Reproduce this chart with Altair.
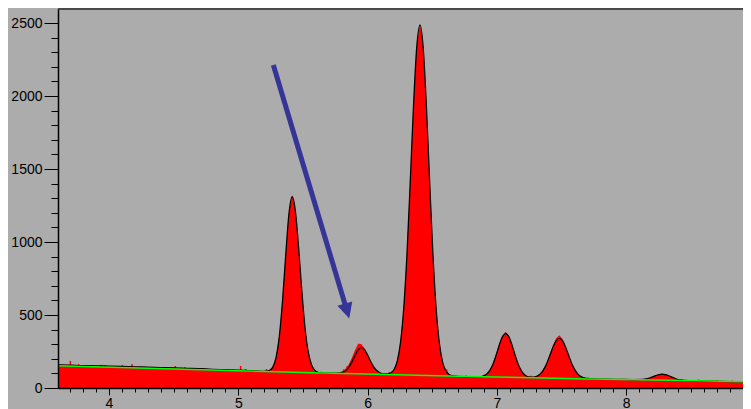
import altair as alt
import pandas as pd

# retention time (min) and detector signal of the chromatogram
T = [3.60, 3.70, 3.80, 3.90, 4.00, 4.10, 4.20, 4.30, 4.40, 4.50, 4.60, 4.70, 4.80, 4.90, 5.00, 5.10, 5.192,
     5.217, 5.242, 5.267, 5.292, 5.317, 5.342, 5.367, 5.392, 5.417, 5.442, 5.467, 5.492, 5.517, 5.542, 5.567,
     5.592, 5.617, 5.642, 5.700, 5.753, 5.778, 5.803, 5.828, 5.853, 5.878, 5.903, 5.928, 5.953, 5.978, 6.003,
     6.028, 6.053, 6.078, 6.103, 6.128, 6.155, 6.180, 6.205, 6.230, 6.255, 6.280, 6.305, 6.330, 6.355, 6.380,
     6.405, 6.430, 6.455, 6.480, 6.505, 6.530, 6.555, 6.580, 6.605, 6.630, 6.655, 6.700, 6.800, 6.868, 6.893,
     6.918, 6.943, 6.968, 6.993, 7.018, 7.043, 7.068, 7.093, 7.118, 7.143, 7.168, 7.193, 7.218, 7.243, 7.268,
     7.283, 7.308, 7.333, 7.358, 7.383, 7.408, 7.433, 7.458, 7.483, 7.508, 7.533, 7.558, 7.583, 7.608, 7.633,
     7.658, 7.683, 7.708, 7.750, 7.850, 7.950, 8.050, 8.129, 8.154, 8.179, 8.204, 8.229, 8.254, 8.279, 8.304,
     8.329, 8.354, 8.379, 8.404, 8.429, 8.454, 8.550, 8.650, 8.750, 8.850, 8.970]

# smooth fitted trace (black outline)
FIT = [158, 156, 153, 152, 150, 148, 145, 143, 140, 138, 135, 132, 128, 125, 122, 118, 114,
       115, 121, 143, 208, 350, 596, 912, 1195, 1310, 1209, 956, 657, 404, 242, 157,
       120, 108, 103, 102, 101, 102, 105, 117, 140, 177, 222, 262, 278, 261, 221,
       175, 137, 114, 101, 96, 96, 104, 127, 186, 314, 551, 924, 1413, 1930, 2333,
       2485, 2331, 1927, 1410, 920, 545, 307, 177, 117, 93, 84, 80, 78, 78, 82,
       93, 117, 159, 222, 292, 351, 373, 350, 290, 219, 155, 112, 88, 77, 74,
       74, 80, 94, 121, 163, 219, 277, 323, 340, 322, 276, 216, 159, 117, 89,
       74, 67, 64, 62, 60, 59, 58, 59, 62, 68, 76, 85, 92, 95, 91,
       84, 74, 65, 58, 55, 52, 49, 47, 45, 43, 41]

# raw signal (red fill)
RED = [160, 158, 155, 153, 151, 149, 146, 144, 141, 139, 136, 133, 129, 126, 123, 119, 115,
       116, 123, 146, 212, 356, 604, 920, 1205, 1322, 1215, 960, 662, 408, 246, 160,
       122, 109, 104, 103, 103, 106, 115, 130, 160, 205, 260, 305, 300, 268, 225,
       178, 138, 114, 101, 97, 97, 105, 129, 190, 320, 558, 932, 1422, 1940, 2345,
       2497, 2340, 1935, 1418, 926, 550, 310, 180, 119, 95, 85, 81, 79, 79, 84,
       96, 122, 166, 232, 304, 362, 386, 358, 296, 222, 158, 114, 90, 78, 75,
       75, 82, 97, 126, 170, 228, 290, 340, 362, 336, 282, 220, 162, 119, 90,
       75, 68, 65, 63, 61, 60, 59, 60, 63, 70, 78, 87, 95, 97, 93,
       86, 75, 66, 59, 56, 53, 50, 48, 46, 44, 42]

# noise spikes standing above the trace
SPIKE_T = [3.701, 3.766, 3.838, 3.940, 4.103, 4.178, 4.281, 4.469, 4.513, 4.588, 4.719, 4.783,
           5.018, 5.057, 5.088, 5.217, 5.640, 5.815, 5.842, 6.168, 6.612, 6.760, 6.905,
           7.262, 7.705, 8.560, 8.700, 8.820]
SPIKE_V = [185, 164, 158, 158, 158, 164, 144, 144, 151, 144, 137, 130,
           151, 130, 123, 130, 112, 128, 150, 110, 128, 88, 92,
           84, 72, 58, 55, 52]

# fitted baseline (green)
BASE_T = [3.60, 5.20, 5.65, 6.15, 6.70, 7.28, 7.70, 8.10, 8.45, 8.97]
BASE_V = [152, 113, 103, 93, 80, 70, 62, 57, 51, 41]

# annotation arrow (tail -> head)
ARROW_T = [5.271, 5.841]
ARROW_V = [2212, 527]

# frame line along the top of the plot
FRAME_T = [3.6056, 8.9034]
FRAME_V = [2596, 2596]

X_TICKS = [3.7, 3.8, 3.9, 4.0, 4.1, 4.2, 4.3, 4.4, 4.5, 4.6, 4.7, 4.8, 4.9, 5.0, 5.1, 5.2, 5.3, 5.4,
           5.5, 5.6, 5.7, 5.8, 5.9, 6.0, 6.1, 6.2, 6.3, 6.4, 6.5, 6.6, 6.7, 6.8, 6.9, 7.0, 7.1, 7.2,
           7.3, 7.4, 7.5, 7.6, 7.7, 7.8, 7.9, 8.0, 8.1, 8.2, 8.3, 8.4, 8.5, 8.6, 8.7, 8.8, 8.9]
Y_TICKS = [0, 100, 200, 300, 400, 500, 600, 700, 800, 900, 1000, 1100, 1200, 1300, 1400, 1500,
           1600, 1700, 1800, 1900, 2000, 2100, 2200, 2300, 2400, 2500]

sig = pd.DataFrame({"t": T, "fit": FIT, "red": RED})
spikes = pd.DataFrame({"t": SPIKE_T, "v": SPIKE_V})
base = pd.DataFrame({"t": BASE_T, "v": BASE_V})
arrow = pd.DataFrame({"t": [ARROW_T[0]], "v": [ARROW_V[0]], "t2": [ARROW_T[1]], "v2": [ARROW_V[1]]})
head = pd.DataFrame({"t": [ARROW_T[1]], "v": [ARROW_V[1]]})
frame = pd.DataFrame({"t": FRAME_T, "v": FRAME_V})

FONT = "Liberation Sans"
xs = alt.Scale(domain=[3.6056, 8.9034], nice=False, zero=False)
ys = alt.Scale(domain=[0, 2596], nice=False, zero=True)

x_axis = alt.Axis(
    values=X_TICKS, title=None, grid=False, zindex=1,
    labelExpr="abs(datum.value - round(datum.value)) < 0.001 ? format(datum.value, 'd') : ''",
    tickSize={"condition": {"test": "abs(datum.value - round(datum.value)) < 0.001", "value": 7}, "value": 4},
    tickColor="black", tickWidth=1, domainColor="black", domainWidth=1.5,
    labelFont=FONT, labelFontSize=14, labelColor="black", labelPadding=1,
    labelOverlap=False, labelFlush=False,
)
y_axis = alt.Axis(
    values=Y_TICKS, title=None, grid=False, zindex=1,
    labelExpr="datum.value % 500 === 0 ? format(datum.value, 'd') : ''",
    tickSize={"condition": {"test": "datum.value % 500 === 0", "value": 14}, "value": 7},
    tickColor="black", tickWidth=1, domainColor="black", domainWidth=1.5,
    labelFont=FONT, labelFontSize=14, labelColor="black", labelPadding=2,
    labelOverlap=False, labelFlush=False,
)


def X(field="t"):
    return alt.X(f"{field}:Q", scale=xs, axis=x_axis, title=None)


def Y(field):
    return alt.Y(f"{field}:Q", scale=ys, axis=y_axis, title=None)


frame_line = alt.Chart(frame).mark_line(color="#4a4a4a", strokeWidth=2).encode(
    x=X(), y=Y("v"),
)
red_area = alt.Chart(sig).mark_area(color="#ff0000", clip=True, interpolate="linear").encode(
    x=X(), y=Y("red"),
)
spike_rules = alt.Chart(spikes).mark_rule(color="#ff0000", strokeWidth=1.5, clip=True).encode(
    x=X(), y=Y("v"), y2=alt.datum(0),
)
fit_line = alt.Chart(sig).mark_line(color="#000000", strokeWidth=1.3, clip=True, interpolate="monotone").encode(
    x=X(), y=Y("fit"),
)
base_line = alt.Chart(base).mark_line(color="#00ff00", strokeWidth=1.5, clip=True).encode(
    x=X(), y=Y("v"),
)
arrow_shaft = alt.Chart(arrow).mark_rule(color="#353597", strokeWidth=5).encode(
    x=X(), y=Y("v"), x2="t2:Q", y2="v2:Q",
)
arrow_head = alt.Chart(head).mark_point(
    shape="M-1,-1L1,-1L0,1Z", filled=True, fill="#353597", opacity=1, strokeWidth=0, size=240, angle=343.3
).encode(
    x=X(), y=Y("v"),
)

chart = alt.layer(frame_line, red_area, spike_rules, fit_line, base_line, arrow_shaft, arrow_head).properties(
    width=685, height=379,
    autosize="none",
    padding={"left": 50, "top": 1, "right": 0, "bottom": 21},
    background="#acacac",
).configure_view(stroke=None)

chart.save("out.html", embed_options={"renderer": "svg", "actions": False})
